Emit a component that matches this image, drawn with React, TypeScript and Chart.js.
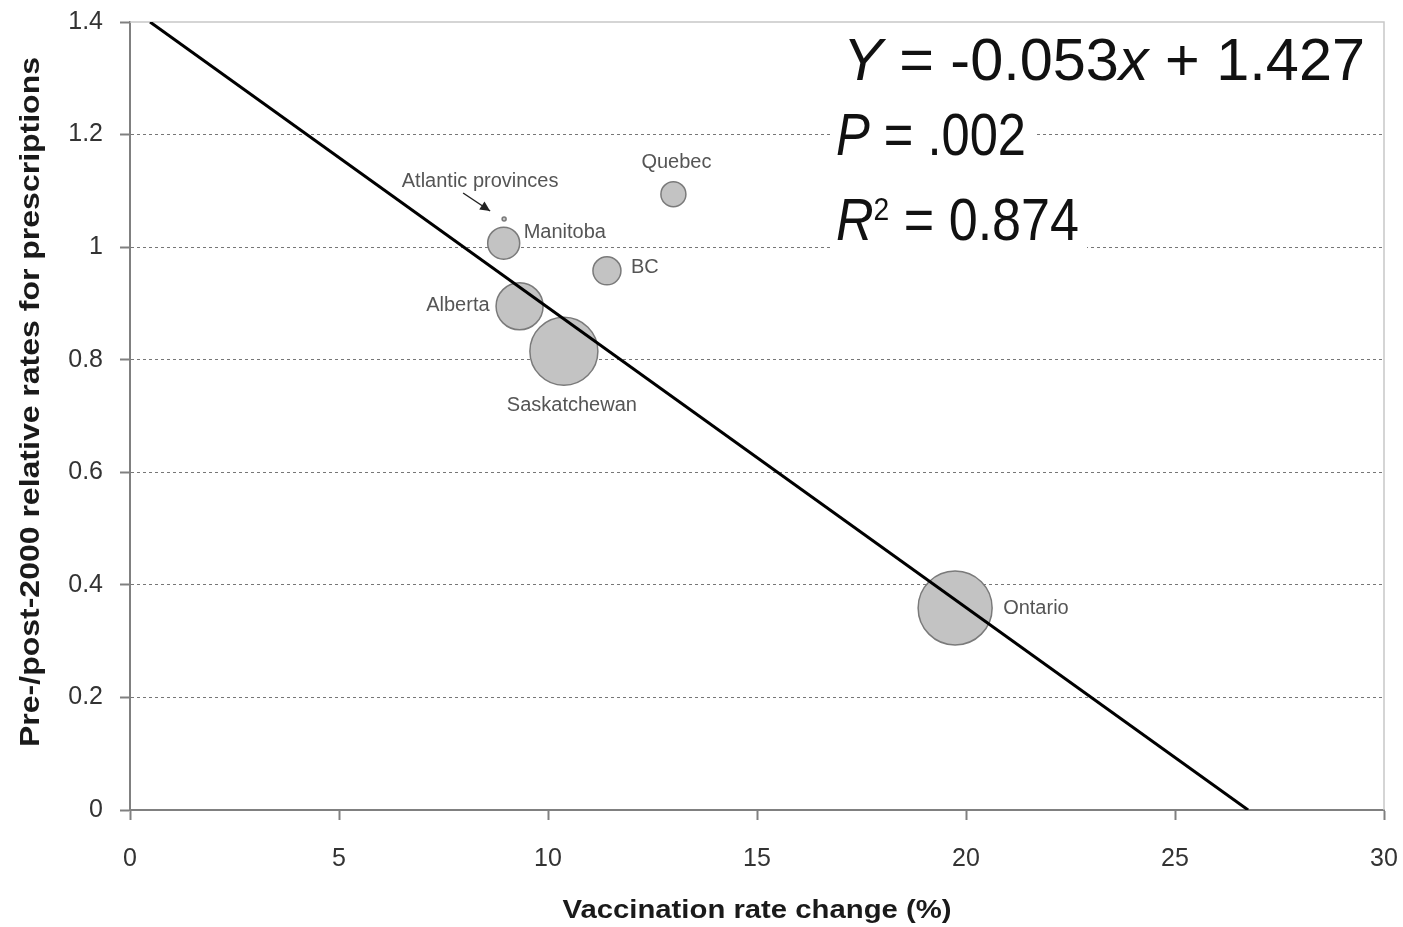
import React, { useEffect, useRef } from "react";
import { Chart, registerables } from "chart.js";

Chart.register(...registerables);

// ---- data ----
const provinces = ["Atlantic provinces", "Quebec", "Manitoba", "BC", "Alberta", "Saskatchewan", "Ontario"];
const vaccinationChange = [8.95, 13.0, 8.94, 11.41, 9.32, 10.38, 19.74];
const relativeRates = [1.05, 1.094, 1.007, 0.958, 0.895, 0.815, 0.359];
const bubbleRadius = [2, 12.5, 16, 14, 23.5, 34, 37];

const fitX = [0.48, 26.75];
const fitY = [1.4, 0];

const xTickLabels = ["0", "5", "10", "15", "20", "25", "30"];
const yTickLabels = ["0", "0.2", "0.4", "0.6", "0.8", "1", "1.2", "1.4"];

const xTitle = "Vaccination rate change (%)";
const yTitle = "Pre-/post-2000 relative rates for prescriptions";

const eqLine1: [string, string][] = [["Y", "i"], [" = -0.053", "n"], ["x", "i"], [" + 1.427", "n"]];
const eqLine2: [string, string][] = [["P", "i"], [" = .002", "n"]];
const eqLine3: [string, string][] = [["R", "i"], ["2", "s"], [" = 0.874", "n"]];

// label placement relative to bubble centre (px)
const labelOffsets: { dx: number; dy: number; align: CanvasTextAlign }[] = [
  { dx: -24, dy: -38, align: "center" },
  { dx: 3, dy: -32, align: "center" },
  { dx: 20, dy: -11, align: "left" },
  { dx: 24, dy: -3, align: "left" },
  { dx: -30, dy: -1, align: "right" },
  { dx: 8, dy: 54, align: "center" },
  { dx: 48, dy: 1, align: "left" },
];

const FONT = "'Liberation Sans', Arial, Helvetica, sans-serif";

function drawStretched(ctx: CanvasRenderingContext2D, text: string, cx: number, cy: number, target: number, font: string, rot: number) {
  ctx.save();
  ctx.font = font;
  const w = ctx.measureText(text).width;
  ctx.translate(cx, cy);
  ctx.rotate(rot);
  ctx.scale(target / w, 1);
  ctx.textAlign = "center";
  ctx.textBaseline = "middle";
  ctx.fillText(text, 0, 0);
  ctx.restore();
}

function drawEqLine(ctx: CanvasRenderingContext2D, segs: [string, string][], x: number, baseline: number, target: number) {
  const size = 59;
  const fontFor = (k: string) =>
    k === "i" ? `italic ${size}px ${FONT}` : k === "s" ? `${Math.round(size * 0.55)}px ${FONT}` : `${size}px ${FONT}`;
  let total = 0;
  const widths = segs.map(([t, k]) => {
    ctx.font = fontFor(k);
    const w = ctx.measureText(t).width;
    total += w;
    return w;
  });
  const sx = target / total;
  ctx.save();
  ctx.fillStyle = "#ffffff";
  ctx.fillRect(x - 6, baseline - 50, target + 14, 64);
  ctx.translate(x, baseline);
  ctx.scale(sx, 1);
  ctx.fillStyle = "#111111";
  ctx.textAlign = "left";
  ctx.textBaseline = "alphabetic";
  let cx = 0;
  segs.forEach(([t, k], i) => {
    ctx.font = fontFor(k);
    ctx.fillText(t, cx, k === "s" ? -20 : 0);
    cx += widths[i];
  });
  ctx.restore();
}

const overlayPlugin = {
  id: "overlay",
  beforeDatasetsDraw(chart: any) {
    const { ctx, chartArea } = chart;
    ctx.save();
    ctx.strokeStyle = "#c8c8c8";
    ctx.lineWidth = 1.5;
    ctx.beginPath();
    ctx.moveTo(chartArea.left, chartArea.top);
    ctx.lineTo(chartArea.right, chartArea.top);
    ctx.lineTo(chartArea.right, chartArea.bottom);
    ctx.stroke();
    ctx.restore();
  },
  afterDraw(chart: any) {
    const { ctx } = chart;
    const xs = chart.scales.x;
    const ys = chart.scales.y;
    ctx.save();
    // bubble labels
    ctx.font = `20px ${FONT}`;
    ctx.fillStyle = "#555555";
    ctx.textBaseline = "middle";
    provinces.forEach((name, i) => {
      const px = xs.getPixelForValue(vaccinationChange[i]);
      const py = ys.getPixelForValue(relativeRates[i]);
      const o = labelOffsets[i];
      ctx.textAlign = o.align;
      ctx.fillText(name, px + o.dx, py + o.dy);
    });
    // arrow for Atlantic provinces
    {
      const px = xs.getPixelForValue(vaccinationChange[0]);
      const py = ys.getPixelForValue(relativeRates[0]);
      const sx = px - 41, sy = py - 26, ex = px - 14, ey = py - 8;
      ctx.strokeStyle = "#222";
      ctx.fillStyle = "#222";
      ctx.lineWidth = 1.5;
      ctx.beginPath();
      ctx.moveTo(sx, sy);
      ctx.lineTo(ex, ey);
      ctx.stroke();
      const ang = Math.atan2(ey - sy, ex - sx);
      ctx.beginPath();
      ctx.moveTo(ex, ey);
      ctx.lineTo(ex - 11 * Math.cos(ang - 0.45), ey - 11 * Math.sin(ang - 0.45));
      ctx.lineTo(ex - 11 * Math.cos(ang + 0.45), ey - 11 * Math.sin(ang + 0.45));
      ctx.closePath();
      ctx.fill();
    }
    // equation
    drawEqLine(ctx, eqLine1, 843, 80, 522);
    drawEqLine(ctx, eqLine2, 836, 155, 190);
    drawEqLine(ctx, eqLine3, 836, 240, 243);
    // axis titles
    ctx.fillStyle = "#1a1a1a";
    drawStretched(ctx, xTitle, 757, 911, 389, `bold 25px ${FONT}`, 0);
    drawStretched(ctx, yTitle, 32, 402, 690, `bold 27px ${FONT}`, -Math.PI / 2);
    ctx.restore();
  },
};

export default function App() {
  const ref = useRef<HTMLCanvasElement | null>(null);
  useEffect(() => {
    document.body.style.margin = "0";
    const canvas = ref.current;
    if (!canvas) return;
    const chart = new Chart(canvas, {
      type: "bubble",
      data: {
        datasets: [
          {
            type: "line",
            label: "fit",
            data: fitX.map((x, i) => ({ x, y: fitY[i] })),
            borderColor: "#000000",
            borderWidth: 3,
            pointRadius: 0,
            fill: false,
            order: 0,
          } as any,
          {
            type: "bubble",
            label: "provinces",
            data: provinces.map((_, i) => ({ x: vaccinationChange[i], y: relativeRates[i], r: bubbleRadius[i] })),
            backgroundColor: "#c3c3c3",
            borderColor: "#7a7a7a",
            borderWidth: 1.5,
            order: 1,
          },
        ],
      },
      options: {
        responsive: false,
        animation: false,
        events: [],
        layout: { autoPadding: false, padding: { top: 22, right: 19, left: 0, bottom: 0 } },
        plugins: { legend: { display: false }, tooltip: { enabled: false }, title: { display: false } },
        scales: {
          x: {
            type: "linear",
            min: 0,
            max: 30,
            position: "bottom",
            ticks: {
              stepSize: 5,
              color: "#333333",
              font: { size: 25, family: FONT },
              padding: 24,
              maxRotation: 0,
              autoSkip: false,
              callback: (_v: any, i: number) => xTickLabels[i],
            },
            grid: { drawOnChartArea: false, drawTicks: true, tickLength: 10, tickColor: "#808080", tickWidth: 2 },
            border: { color: "#808080", width: 2 },
            afterFit: (s: any) => {
              s.height = 117;
              s.paddingLeft = 0;
              s.paddingRight = 0;
            },
          },
          y: {
            type: "linear",
            min: 0,
            max: 1.4,
            ticks: {
              stepSize: 0.2,
              color: "#333333",
              font: { size: 25, family: FONT },
              padding: 17,
              autoSkip: false,
              callback: (_v: any, i: number) => yTickLabels[i],
            },
            grid: {
              color: (c: any) => (c.index === 0 || c.index === 7 ? "rgba(0,0,0,0)" : "#777777"),
              lineWidth: 1,
              drawTicks: true,
              tickLength: 10,
              tickColor: "#808080",
              tickWidth: 2,
            },
            border: { color: "#808080", width: 2, dash: [3, 3] },
            afterFit: (s: any) => {
              s.width = 130;
              s.paddingTop = 0;
              s.paddingBottom = 0;
            },
          },
        },
      },
      plugins: [overlayPlugin],
    });
    return () => chart.destroy();
  }, []);
  return (
    <div style={{ position: "absolute", left: 0, top: 0, width: 1403, height: 927, background: "#fff" }}>
      <canvas ref={ref} width={1403} height={927} style={{ display: "block" }} />
    </div>
  );
}
